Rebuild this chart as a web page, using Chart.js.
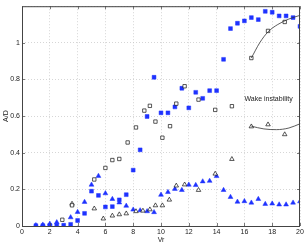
<!DOCTYPE html>
<html>
<head>
<meta charset="utf-8">
<script src="https://cdn.jsdelivr.net/npm/chart.js@4/dist/chart.umd.min.js"></script>
<style>
  html, body { margin: 0; padding: 0; background: #fff; overflow: hidden; }
</style>
</head>
<body>
<canvas id="chart" width="306" height="244"></canvas>
<script>
// filled blue squares
const sqFillX = [1, 1.5, 2, 2.5, 3, 3.5, 4, 4.5, 5, 5.5, 6, 6.5, 7, 7.5, 8, 8.5, 9, 9.5, 10, 10.5, 11, 11.5, 12, 12.5, 13, 13.5, 14, 14.5, 15, 15.5, 16, 16.5, 17, 17.5, 18, 18.5, 19, 19.5, 20];
const sqFillY = [0.002, 0.002, 0.003, 0.003, 0.004, 0.009, 0.03, 0.069, 0.19, 0.167, 0.104, 0.106, 0.143, 0.171, 0.305, 0.416, 0.598, 0.812, 0.618, 0.618, 0.65, 0.752, 0.645, 0.73, 0.697, 0.739, 0.739, 0.91, 1.078, 1.107, 1.12, 1.138, 1.127, 1.172, 1.167, 1.147, 1.147, 1.138, 1.09];
// open squares
const sqOpenX = [2.9, 3.6, 5.2, 6.0, 6.5, 7.0, 7.6, 8.2, 8.8, 9.2, 9.6, 10.1, 10.65, 11.1, 11.7, 12.7, 13.9, 15.1, 16.5, 17.7, 18.9];
const sqOpenY = [0.034, 0.113, 0.254, 0.317, 0.36, 0.366, 0.456, 0.538, 0.63, 0.656, 0.57, 0.482, 0.545, 0.668, 0.763, 0.69, 0.634, 0.654, 0.917, 1.065, 1.114];
// filled blue triangles
const triFillX = [1, 1.5, 2, 2.5, 3.5, 4, 4.5, 5, 5.5, 6, 6.5, 7, 7.5, 8, 8.5, 9, 9.5, 10, 10.5, 11, 11.5, 12, 12.5, 13, 13.5, 14, 14.5, 15, 15.5, 16, 16.5, 17, 17.5, 18, 18.5, 19, 19.5, 20];
const triFillY = [0.004, 0.007, 0.012, 0.02, 0.047, 0.076, 0.131, 0.225, 0.273, 0.178, 0.147, 0.128, 0.11, 0.089, 0.085, 0.08, 0.075, 0.17, 0.185, 0.202, 0.196, 0.225, 0.223, 0.243, 0.246, 0.272, 0.196, 0.158, 0.132, 0.135, 0.127, 0.147, 0.12, 0.122, 0.117, 0.117, 0.127, 0.134];
// open triangles
const triOpenX = [3.6, 5.2, 5.85, 6.5, 7.0, 7.5, 8.2, 8.7, 9.2, 9.6, 10.1, 10.6, 11.1, 11.7, 12.7, 13.9, 15.1, 16.5, 17.7, 18.9];
const triOpenY = [0.121, 0.095, 0.04, 0.056, 0.063, 0.068, 0.08, 0.083, 0.09, 0.112, 0.112, 0.143, 0.22, 0.226, 0.196, 0.285, 0.365, 0.543, 0.554, 0.5];
// wake instability curves
const curveSqX = [16.5, 17.1, 17.7, 18.4, 19.2, 20];
const curveSqY = [0.917, 1.0, 1.06, 1.1, 1.13, 1.15];
const curveTriX = [16.5, 17.4, 18.3, 19.2, 20];
const curveTriY = [0.545, 0.53, 0.526, 0.535, 0.558];

const xTicks = [0, 2, 4, 6, 8, 10, 12, 14, 16, 18, 20];

const blue = 'rgb(30,50,255)';
const pts = (xs, ys) => xs.map((x, i) => ({x: x, y: ys[i]}));

const frame = {
  id: 'frame',
  afterDraw(chart) {
    const ctx = chart.ctx;
    const a = chart.chartArea;
    const xs = chart.scales.x, ys = chart.scales.y;
    ctx.save();
    ctx.strokeStyle = '#444';
    ctx.lineWidth = 1;
    ctx.strokeRect(a.left + 0.5, a.top + 0.5, a.right - a.left - 1, a.bottom - a.top);
    // inward tick marks
    ctx.lineWidth = 0.7;
    xTicks.forEach(function (t) {
      const px = Math.round(xs.getPixelForValue(t)) + 0.5;
      ctx.beginPath();
      ctx.moveTo(px, a.bottom); ctx.lineTo(px, a.bottom - 3);
      ctx.moveTo(px, a.top); ctx.lineTo(px, a.top + 3);
      ctx.stroke();
    });
    [0, 0.2, 0.4, 0.6, 0.8, 1].forEach(function (t) {
      const py = Math.round(ys.getPixelForValue(t)) + 0.5;
      ctx.beginPath();
      ctx.moveTo(a.left, py); ctx.lineTo(a.left + 3, py);
      ctx.moveTo(a.right, py); ctx.lineTo(a.right - 3, py);
      ctx.stroke();
    });
    // annotation text
    ctx.fillStyle = '#222';
    ctx.font = '7px "Liberation Sans", Arial, sans-serif';
    ctx.textAlign = 'left';
    ctx.textBaseline = 'middle';
    ctx.fillText('Wake instability', xs.getPixelForValue(16.0), ys.getPixelForValue(0.695));
    ctx.restore();
  }
};

new Chart(document.getElementById('chart'), {
  type: 'scatter',
  data: {
    datasets: [
      {data: pts(curveSqX, curveSqY), showLine: true, tension: 0.4, cubicInterpolationMode: 'monotone',
       borderColor: '#333', borderWidth: 0.8, pointRadius: 0},
      {data: pts(curveTriX, curveTriY), showLine: true, tension: 0.4, cubicInterpolationMode: 'monotone',
       borderColor: '#333', borderWidth: 0.8, pointRadius: 0},
      {data: pts(sqOpenX, sqOpenY), pointStyle: 'rect', pointRadius: 2.4, backgroundColor: '#fff',
       borderColor: '#111', borderWidth: 0.7},
      {data: pts(triOpenX, triOpenY), pointStyle: 'triangle', pointRadius: 2.6, backgroundColor: '#fff',
       borderColor: '#111', borderWidth: 0.7},
      {data: pts(sqFillX, sqFillY), pointStyle: 'rect', pointRadius: 2.7, backgroundColor: blue,
       borderColor: blue, borderWidth: 0.5},
      {data: pts(triFillX, triFillY), pointStyle: 'triangle', pointRadius: 2.8, backgroundColor: blue,
       borderColor: blue, borderWidth: 0.5}
    ]
  },
  options: {
    responsive: false,
    animation: false,
    maintainAspectRatio: false,
    layout: {padding: {top: 5, right: 6, left: 2, bottom: 0}},
    plugins: {legend: {display: false}, tooltip: {enabled: false}},
    scales: {
      x: {
        type: 'linear', min: 0, max: 20,
        afterBuildTicks: function (s) { s.ticks = xTicks.map(v => ({value: v})); },
        afterFit: function (s) { s.height = 18; },
        grid: {color: '#c4c4c4', lineWidth: 0.7, drawTicks: false},
        border: {display: false, dash: [1, 2]},
        ticks: {padding: 2, maxRotation: 0, color: '#222', font: {size: 7, family: '"Liberation Sans", Arial, sans-serif'}},
        title: {display: true, text: 'Vr', padding: 0, color: '#222', font: {size: 7, family: '"Liberation Sans", Arial, sans-serif'}}
      },
      y: {
        type: 'linear', min: 0, max: 1.2,
        ticks: {stepSize: 0.2, padding: 2, color: '#222', font: {size: 7, family: '"Liberation Sans", Arial, sans-serif'},
          callback: function (v) { return v > 1.1 ? '' : String(+v.toFixed(1)); }},
        afterFit: function (s) { s.width = 20; },
        grid: {color: '#c4c4c4', lineWidth: 0.7, drawTicks: false},
        border: {display: false, dash: [1, 2]},
        title: {display: true, text: 'A/D', padding: 0, color: '#222', font: {size: 7, family: '"Liberation Sans", Arial, sans-serif'}}
      }
    }
  },
  plugins: [frame]
});
</script>
</body>
</html>
